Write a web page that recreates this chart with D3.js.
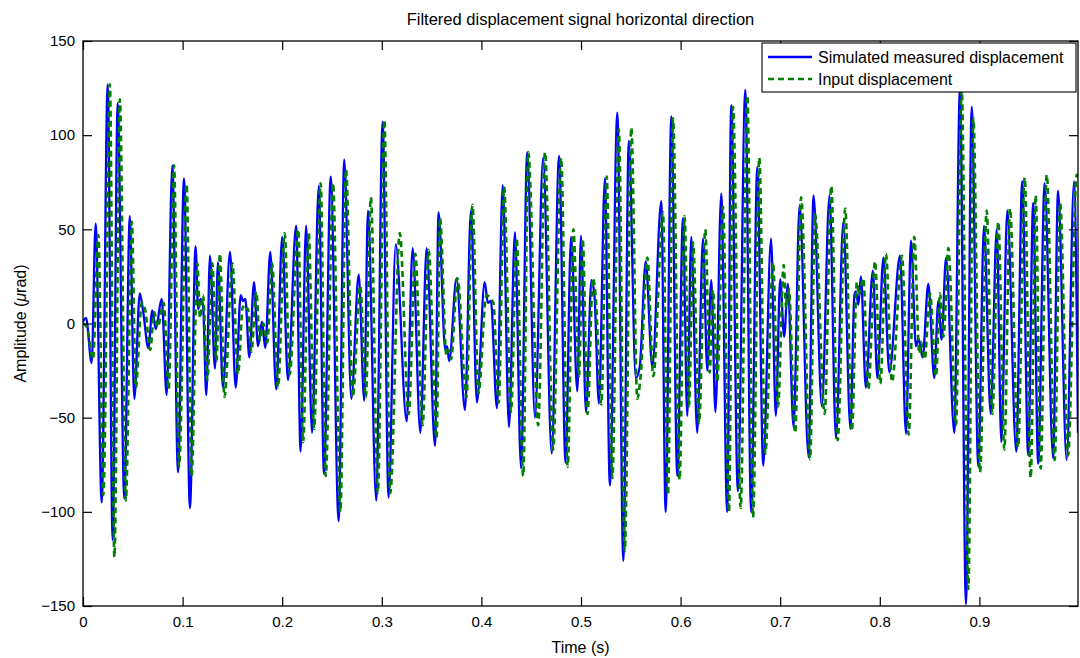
<!DOCTYPE html>
<html>
<meta charset="utf-8">
<title>Filtered displacement signal horizontal direction</title>
<style>
  body { margin: 0; background: #fff; }
  svg { display: block; font-family: "Liberation Sans", Arial, Helvetica, sans-serif; }
  .tick-label { font-size: 15px; fill: #000; }
  .frame { fill: none; stroke: #000; stroke-width: 1.3; }
</style>
<body>
<div id="chart"></div>
<script src="https://d3js.org/d3.v7.min.js"></script>
<script>
// time in ms, amplitude in µrad (extrema + shoulders)
var measuredT = [0,3,8.7,12.7,18.8,24.8,29.8,34.8,41.5,47,51.5,57,60.5,65.6,69.6,73,79,84,89.7,95.4,101.4,107.4,113,115.7,118,120.5,123.8,127.5,132.5,135.5,140.5,147.6,153.3,158.3,160.6,163,167,171.7,175.7,179.7,183,188,194,200,205.8,214,218.5,224,230,236.7,242,248.7,256.7,262.3,269.4,276.8,282.4,286.1,294.4,300.8,306.8,314,325,331,338.7,345,353.4,357,363.7,365.5,367.7,375,383.5,389.5,395.5,403.3,406.5,409.5,415.6,421.4,427.7,433.7,439.8,446,453.8,462,470.5,478,484.5,490,496.3,500,505,510.5,513.5,518,524,529,536.5,542.5,548,555,559,565,571.6,580.6,585,590.7,596.7,602.4,606.7,610.7,616.7,622.5,626.8,630.8,635,640.8,646.8,650.8,657.5,665,670.8,677,683,690.8,695.6,700,704,707.7,713.4,719.5,728.5,733.5,741.8,749.5,756,763.4,770.5,774.5,776,778.5,781,786,793,797.6,803.6,809.6,820.3,826.3,831.3,836.3,839,843,848.7,854.7,858.7,862.1,866.5,874.8,880.5,886.5,892.3,898.9,904.6,911.3,917.4,922,928,937,943,949,954,959,965.5,974,979,987.6,995,999];
var measuredV = [1,3,-21,53,-95,127,-115,117,-93,57,-40,16,6,-13,7,-3,13,-38,84,-79,77,-98,41,7.5,13,10,-38,36,-24,32.5,-34,38,-34,15,12,13,-18,22,-12,1,-13,38,-35,46,-30,52,-68,52,-58,73,-80,78,-105,87,-40,26,-41,60,-94,107,-92.5,42,-52,40,-58,40,-65,59,-14,-12,-20,24,-46,60,-42,22,11,12,-45,73.5,-55,48.5,-77,91,-50,88,-69,89,-74,46,-36,46.5,-47,23,15,-42.5,77,-86,112,-126,97,-29,-23,33,-23,65,-100,110,-81,56,-49,46,-58,45,-25,23,-47,69,-100,116,-89,124,-100,83,-75.5,45,-49,23.6,-7,21,-55,63,-71,68,-44,68,-61,54,-56,15,17,10,25,-34,28,-29,35,-26,36,-58.6,44,-12,-8,-18,21,-29,12,-8.6,35,-58,125,-149,115,-76,52,-48,50,-63,60,-68,75.5,-70,64,-74.5,74.5,-71.5,70.6,-72.5,75.5,-58];

var inputT = [0,4,10,15.4,20.4,27,31.5,37,43,49,53,59,62.5,67.5,71.5,75,81,86,91.4,96.4,104,109,114.8,117.5,120.5,124.8,129.8,134,137.5,142,150,155.6,160.5,163,165.5,169,174,177.5,181,185,189.8,195.8,202.5,207.5,216,221,226.6,232,238.6,243.7,251,258.4,264,270.8,278.4,284,289,296,302.5,308.5,318,327,333.6,341,347,355,358.4,365,367,369.5,376,385,391,397,405,412,417.4,422.7,429.7,435.4,442,447,457,463.9,472,480,486.6,492.3,498,501.7,506.5,512,514.5,520.4,525.8,531.4,538,543.9,550.5,556.5,560,566.6,572.6,582.3,587.3,592.4,599,604,608.4,612.5,618.5,624.8,629.2,632.5,636.8,642.6,648.6,652.6,660.3,667,672.7,679,685,692.8,697.8,703.5,706,708.7,715,721,730,735,744.6,751.3,757.7,765.3,772,777,779,783.4,788.5,795.2,800.5,806.2,812.2,822.3,829,834.6,839.7,841.5,845,850.4,856.4,860.4,864,868.8,876.5,882.2,888.9,893.9,900.6,907.3,913,919,925,930.7,938.8,945.5,951.5,956.5,961.5,967.6,975.6,981,989,997.7,999];
var inputV = [0,-2,-19,47,-91,127,-124,119,-94,54,-34,11,7,-14,6,-2,11,-35,84,-76,74,-81,32,3,15,-30,32,-20,37,-39,32,-27,9,7,8,-15,17,-9,0,-10,32,-34,48,-27,50,-63,48,-56,74.5,-81,74.5,-100,82,-39,20,-39,67,-90,108,-90,48,-48,37,-54,39,-61,56,-17,-14,-19,24,-39,63,-37,15,11,-42,72.7,-47,45,-81,91,-54,91,-67,88,-76,50,-28,45,-48,24,16,-43,78,-82,103,-121,104,-40,-27,35,-28,59,-91,109,-83,57,-44,43,-53,50,-26,18,-31,62,-100,115,-98,121,-103,88,-69,32.5,-44,31,8,18,-58,67,-72,58,-48,73,-62,61,-57,22,15,24,-35,33,-32,37,-31,36,-59,46,-16,-10,-19,16,-28,16,-7,40,-54,124,-141,109,-79,60,-48,54,-67,61,-66,77.5,-82,68,-77,79,-72.5,64,-70,79,76];

var xTicks = [0, 0.1, 0.2, 0.3, 0.4, 0.5, 0.6, 0.7, 0.8, 0.9];
var yTicks = [-150, -100, -50, 0, 50, 100, 150];
var seriesNames = ["Simulated measured displacement", "Input displacement"];

var W = 1080, H = 658;
var margin = {top: 41, right: 2, bottom: 52, left: 83};

var svg = d3.select("#chart").append("svg")
    .attr("width", W).attr("height", H);

svg.append("rect").attr("width", W).attr("height", H).attr("fill", "#fff");

var x = d3.scaleLinear().domain([0, 0.999]).range([margin.left, W - margin.right]);
var y = d3.scaleLinear().domain([-150, 150]).range([H - margin.bottom, margin.top]);

svg.append("defs").append("clipPath").attr("id", "plotclip")
  .append("rect")
    .attr("x", x(0)).attr("y", y(150))
    .attr("width", x(0.999) - x(0)).attr("height", y(-150) - y(150));

var toPts = function(ts, vs) {
  return ts.map(function(t, i) { return [t / 1000, vs[i]]; });
};

var line = d3.line()
    .x(function(d) { return x(d[0]); })
    .y(function(d) { return y(d[1]); })
    .curve(d3.curveMonotoneX);

var g = svg.append("g").attr("clip-path", "url(#plotclip)");

g.append("path")
    .datum(toPts(measuredT, measuredV))
    .attr("d", line)
    .attr("fill", "none")
    .attr("stroke", "#0000ff")
    .attr("stroke-width", 2.3)
    .attr("stroke-linejoin", "round");

g.append("path")
    .datum(toPts(inputT, inputV))
    .attr("d", line)
    .attr("fill", "none")
    .attr("stroke", "#008000")
    .attr("stroke-width", 2.6)
    .attr("stroke-dasharray", "6,4");

// axes - matlab style, ticks inside on all four sides
var tickFmtY = function(d) { return d < 0 ? "\u2212" + Math.abs(d) : String(d); };
var tickFmtX = function(d) { return d === 0 ? "0" : d3.format(".1f")(d); };

var axB = svg.append("g").attr("transform", "translate(0," + y(-150) + ")")
    .call(d3.axisBottom(x).tickValues(xTicks).tickFormat(tickFmtX).tickSizeInner(-9).tickSizeOuter(0).tickPadding(10));
var axT = svg.append("g").attr("transform", "translate(0," + y(150) + ")")
    .call(d3.axisTop(x).tickValues(xTicks).tickFormat("").tickSizeInner(-9).tickSizeOuter(0));
var axL = svg.append("g").attr("transform", "translate(" + x(0) + ",0)")
    .call(d3.axisLeft(y).tickValues(yTicks).tickFormat(tickFmtY).tickSizeInner(-9).tickSizeOuter(0).tickPadding(8));
var axR = svg.append("g").attr("transform", "translate(" + x(0.999) + ",0)")
    .call(d3.axisRight(y).tickValues(yTicks).tickFormat("").tickSizeInner(-9).tickSizeOuter(0));

[axB, axT, axL, axR].forEach(function(a) {
  a.select(".domain").remove();
  a.selectAll(".tick line").attr("stroke", "#000").attr("stroke-width", 1.2);
  a.selectAll(".tick text").attr("class", "tick-label").attr("font-family", null).attr("font-size", null);
});

svg.append("rect").attr("class", "frame")
    .attr("x", x(0)).attr("y", y(150))
    .attr("width", x(0.999) - x(0)).attr("height", y(-150) - y(150));

// title and labels
svg.append("text")
    .attr("x", (x(0) + x(0.999)) / 2).attr("y", 25)
    .attr("text-anchor", "middle").attr("font-size", 16.5)
    .text("Filtered displacement signal horizontal direction");

svg.append("text")
    .attr("x", (x(0) + x(0.999)) / 2).attr("y", 653)
    .attr("text-anchor", "middle").attr("font-size", 16)
    .text("Time (s)");

var yl = svg.append("text")
    .attr("transform", "translate(26," + y(0) + ") rotate(-90)")
    .attr("text-anchor", "middle").attr("font-size", 16);
yl.append("tspan").text("Amplitude (");
yl.append("tspan").attr("font-style", "italic").text("\u03bc");
yl.append("tspan").text("rad)");

// legend
var lg = svg.append("g").attr("transform", "translate(762,43)");
lg.append("rect").attr("width", 314).attr("height", 49)
    .attr("fill", "#fff").attr("stroke", "#000").attr("stroke-width", 1.1);
var lstyle = [
  {stroke: "#0000ff", w: 2.3, dash: null},
  {stroke: "#008000", w: 2.6, dash: "6,4"}
];
seriesNames.forEach(function(name, i) {
  var yy = 14 + i * 22;
  lg.append("line").attr("x1", 6).attr("x2", 50).attr("y1", yy).attr("y2", yy)
    .attr("stroke", lstyle[i].stroke).attr("stroke-width", lstyle[i].w)
    .attr("stroke-dasharray", lstyle[i].dash);
  lg.append("text").attr("x", 56).attr("y", yy).attr("dy", "0.35em")
    .attr("font-size", 16).text(name);
});
</script>
</body>
</html>
